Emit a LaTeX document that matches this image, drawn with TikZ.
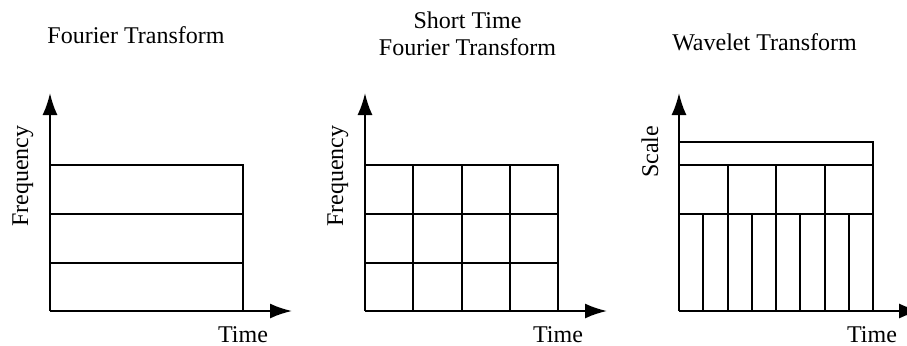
\documentclass[tikz,border=0pt]{standalone}
\usepackage{fontspec}
\setmainfont{Liberation Serif}
\usetikzlibrary{arrows.meta}
\begin{document}
\begin{tikzpicture}[x=0.5pt,y=-0.5pt,
  gridline/.style={line width=1pt,line cap=rect},
  axis/.style={line width=1pt,-{Latex[length=11pt,width=7.5pt]}},
  lbl/.style={font=\fontsize{12pt}{13.5pt}\selectfont,inner sep=0pt,anchor=base},
  vlbl/.style={lbl,rotate=90}]
\useasboundingbox (0,0) rectangle (907,345);
% ---------- Panel 1: Fourier Transform ----------
\node[lbl] (t1) at (136,43) {Fourier Transform};
\coordinate (o1) at (50,311);
\coordinate (y1) at (50,93);
\coordinate (x1) at (292,311);
\draw[axis] (o1) -- (y1);
\draw[axis] (o1) -- (x1);
\foreach \yy in {165,214,263} \draw[gridline] (50,\yy) -- (243,\yy);
\draw[gridline] (243,165) -- (243,311);
\node[vlbl] (f1) at (28,176) {Frequency};
\node[lbl] (tm1) at (243,342) {Time};
% ---------- Panel 2: STFT ----------
\node[lbl] (t2a) at (467.5,28) {Short Time};
\node[lbl] (t2b) at (467.5,55) {Fourier Transform};
\coordinate (o2) at (365,311);
\coordinate (y2) at (365,93);
\coordinate (x2) at (607,311);
\draw[axis] (o2) -- (y2);
\draw[axis] (o2) -- (x2);
\foreach \yy in {165,214,263} \draw[gridline] (365,\yy) -- (558,\yy);
\foreach \xx in {413.25,461.5,509.75,558} \draw[gridline] (\xx,165) -- (\xx,311);
\node[vlbl] (f2) at (343,176) {Frequency};
\node[lbl] (tm2) at (558,342) {Time};
% ---------- Panel 3: Wavelet Transform ----------
\node[lbl] (t3) at (764.5,50) {Wavelet Transform};
\coordinate (o3) at (679,311);
\coordinate (y3) at (679,93);
\coordinate (x3) at (921,311);
\draw[axis] (o3) -- (y3);
\draw[axis] (o3) -- (x3);
\foreach \yy in {142,165,214} \draw[gridline] (679,\yy) -- (873,\yy);
\draw[gridline] (873,142) -- (873,311);
\foreach \xx in {727.5,776,824.5} \draw[gridline] (\xx,165) -- (\xx,214);
\foreach \xx in {703.25,727.5,751.75,776,800.25,824.5,848.75} \draw[gridline] (\xx,214) -- (\xx,311);
\node[vlbl] (s3) at (658,152) {Scale};
\node[lbl] (tm3) at (872,342) {Time};
\end{tikzpicture}
\end{document}
